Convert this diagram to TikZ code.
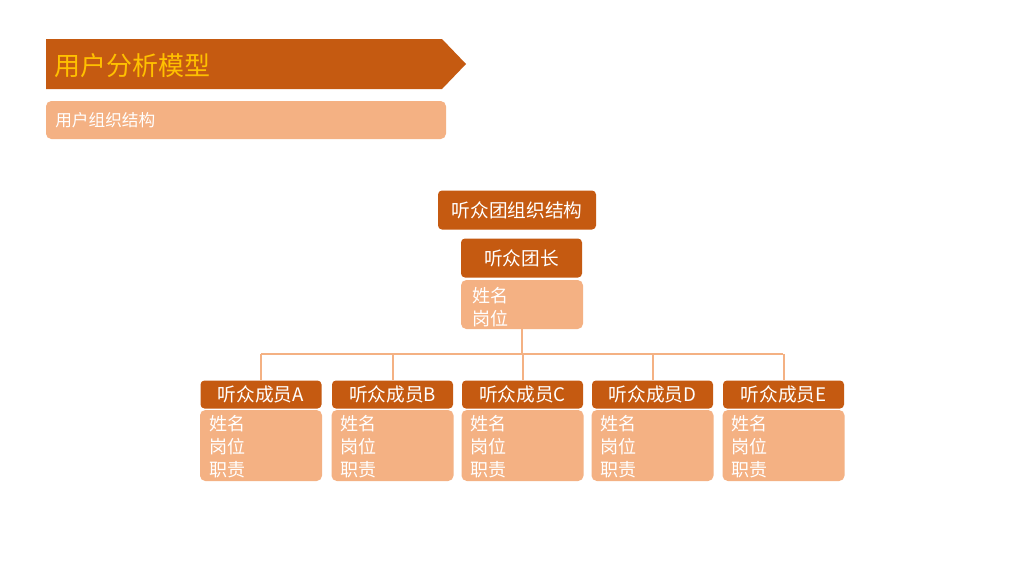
\documentclass[tikz,border=0pt]{standalone}
\usepackage{fontspec}
\setmainfont{Noto Sans CJK SC}
\definecolor{dark}{HTML}{C55A11}
\definecolor{light}{HTML}{F4B183}
\definecolor{gold}{HTML}{FFC000}
\begin{document}
\begin{tikzpicture}[x=0.75pt,y=-0.75pt,
  hdr/.style={fill=dark,rounded corners=3pt,text=white,font=\fontsize{14}{16}\selectfont,inner sep=0pt},
  body/.style={fill=light,rounded corners=4pt,inner sep=0pt},
  btext/.style={anchor=north west,text=white,font=\fontsize{13.5}{17}\selectfont,align=left,inner sep=0pt},
  conn/.style={draw=light,line width=1.5pt}]
\useasboundingbox[fill=white] (0,0) rectangle (1024,576);
% title banner
\fill[dark] (46,39) -- (442,39) -- (466,64) -- (442,89) -- (46,89) -- cycle;
\node[anchor=west,text=gold,font=\fontsize{19.5}{22}\selectfont,inner sep=0pt] (title) at (54,65.5) {用户分析模型};
\fill[light,rounded corners=4pt] (46,101) rectangle (446,139);
\node[anchor=west,text=white,font=\fontsize{12.5}{15}\selectfont,inner sep=0pt] (sub) at (55,120.5) {用户组织结构};
% top
\node[hdr,minimum width=158*0.75pt,minimum height=39*0.75pt,font=\fontsize{14}{16}\selectfont] (org) at (517,210) {听众团组织结构};
\node[hdr,minimum width=121*0.75pt,minimum height=39*0.75pt,font=\fontsize{14}{16}\selectfont] (lead) at (521.5,258) {听众团长};
\node[body,minimum width=122*0.75pt,minimum height=49*0.75pt] (leadb) at (522,304.5) {};
\node[btext] (leadt) at (472,287) {姓名\\岗位};
% bus
\coordinate (bus) at (522,354);
\draw[conn] (leadb.south) -- (bus);
\draw[conn] (261,354) -- (783,354);
% members
\foreach \n/\x/\l in {A/261/A,B/392.5/B,C/522.5/C,D/652.5/D,E/783.5/E}{
  \node[hdr,minimum width=121*0.75pt,minimum height=28*0.75pt] (h\n) at (\x,394.5) {听众成员\l};
  \node[body,minimum width=122*0.75pt,minimum height=71*0.75pt] (b\n) at (\x,445.5) {};
  \node[btext] (t\n) at (\x-52,415.5) {姓名\\岗位\\职责};
  \draw[conn] (\x,354) -- (h\n.north);
}
\end{tikzpicture}
\end{document}
